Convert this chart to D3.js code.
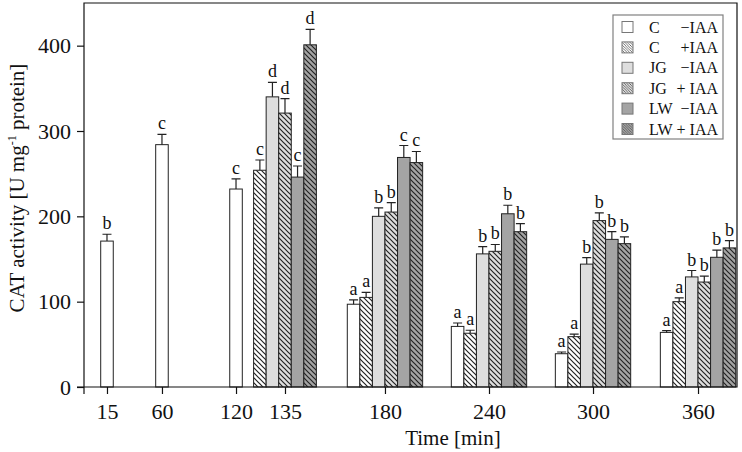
<!DOCTYPE html>
<html><head><meta charset="utf-8">
<script src="https://cdn.jsdelivr.net/npm/d3@7"></script>
<style>
body{margin:0;background:#fff}
text{font-family:"Liberation Serif","Times New Roman",serif;fill:#111}
</style>
</head><body>
<svg id="chart" width="742" height="452"></svg>
<script>
// ---- data ----
const times = [15, 60, 120, 135, 180, 240, 300, 360];
const seriesNames = ["C", "C", "JG", "JG", "LW", "LW"];
const seriesTreat = ["\u2212IAA", "+IAA", "\u2212IAA", "+ IAA", "\u2212IAA", "+ IAA"];
const cMinusIAA  = [171, 284, 232, null, 97, 71, 39, 64];
const cPlusIAA   = [null, null, null, 254, 105, 63, 59, 100];
const jgMinusIAA = [null, null, null, 340, 200, 156, 144, 129];
const jgPlusIAA  = [null, null, null, 321, 205, 159, 195, 123];
const lwMinusIAA = [null, null, null, 246, 269, 203, 173, 152];
const lwPlusIAA  = [null, null, null, 401, 263, 182, 168, 163];
const cMinusErr  = [8, 12, 12, null, 5, 4, 2, 2];
const cPlusErr   = [null, null, null, 12, 6, 3.5, 3, 4.5];
const jgMinusErr = [null, null, null, 17, 10, 8.5, 7.5, 7.5];
const jgPlusErr  = [null, null, null, 17, 11, 8, 9, 7];
const lwMinusErr = [null, null, null, 13, 14, 10, 9, 8.5];
const lwPlusErr  = [null, null, null, 18, 13, 9.5, 8, 8.5];
const cMinusSig  = ["b", "c", "c", null, "a", "a", "a", "a"];
const cPlusSig   = [null, null, null, "c", "a", "a", "a", "a"];
const jgMinusSig = [null, null, null, "d", "b", "b", "b", "b"];
const jgPlusSig  = [null, null, null, "d", "b", "b", "b", "b"];
const lwMinusSig = [null, null, null, "c", "c", "b", "b", "b"];
const lwPlusSig  = [null, null, null, "d", "c", "b", "b", "b"];
const yTicks = [0, 100, 200, 300, 400];

const values = [cMinusIAA, cPlusIAA, jgMinusIAA, jgPlusIAA, lwMinusIAA, lwPlusIAA];
const errors = [cMinusErr, cPlusErr, jgMinusErr, jgPlusErr, lwMinusErr, lwPlusErr];
const sigs   = [cMinusSig, cPlusSig, jgMinusSig, jgPlusSig, lwMinusSig, lwPlusSig];

// ---- layout ----
const margin = {top: 3, right: 5, bottom: 65, left: 84};
const W = 742 - margin.left - margin.right;
const H = 452 - margin.top - margin.bottom;
const svg = d3.select("#chart");
const g = svg.append("g").attr("transform", `translate(${margin.left},${margin.top})`);

const x = d3.scaleLinear().domain(times)
  .range([0.0352, 0.1194, 0.2328, 0.3078, 0.4609, 0.6202, 0.7795, 0.9403].map(f => f * W));
const y = d3.scaleLinear().domain([0, 450]).range([H, 0]);
const bw = W / 52;

// ---- patterns ----
const defs = svg.append("defs");
const bgs = ["#ffffff", "#dedede", "#a4a4a4"];
function hatch(id, bg, s, sw, col) {
  const p = defs.append("pattern").attr("id", id).attr("patternUnits", "userSpaceOnUse")
    .attr("width", s).attr("height", s);
  p.append("rect").attr("width", s).attr("height", s).attr("fill", bg);
  p.append("path").attr("d", `M${-s/2},${-s/2}L${s*1.5},${s*1.5}M${-s/2},${s/2}L${s/2},${s*1.5}M${s/2},${-s/2}L${s*1.5},${s/2}`)
    .attr("stroke", col).attr("stroke-width", sw);
}
bgs.forEach((b, i) => { hatch("h" + i, b, 5, 1.2, "#222"); hatch("lh" + i, b, 2.6, 0.8, "#555"); });
const fills = ["#ffffff", "url(#h0)", "#dedede", "url(#h1)", "#a4a4a4", "url(#h2)"];
const legendFills = ["#ffffff", "url(#lh0)", "#dedede", "url(#lh1)", "#a4a4a4", "url(#lh2)"];

// ---- bars ----
const bars = [];
times.forEach((t, gi) => {
  const present = values.map((v, si) => si).filter(si => values[si][gi] != null);
  const n = present.length;
  present.forEach((si, k) => {
    bars.push({t, si, v: values[si][gi], e: errors[si][gi], s: sigs[si][gi],
      cx: x(t) + (k - (n - 1) / 2) * bw});
  });
});

g.selectAll("rect.bar").data(bars).join("rect").attr("class", "bar")
  .attr("x", d => d.cx - bw / 2).attr("width", bw)
  .attr("y", d => y(d.v)).attr("height", d => y(0) - y(d.v))
  .attr("fill", d => fills[d.si]).attr("stroke", "#222").attr("stroke-width", 1);

g.selectAll("path.err").data(bars).join("path").attr("class", "err")
  .attr("d", d => `M${d.cx},${y(d.v)}V${y(d.v + d.e)}M${d.cx - 4.5},${y(d.v + d.e)}H${d.cx + 4.5}`)
  .attr("stroke", "#222").attr("stroke-width", 1.2).attr("fill", "none");

g.selectAll("text.sig").data(bars).join("text").attr("class", "sig")
  .attr("x", d => d.cx).attr("y", d => y(d.v + d.e) - 5)
  .attr("text-anchor", "middle").attr("font-size", 18).text(d => d.s);

// ---- axes ----
const yAxis = g.append("g").call(d3.axisLeft(y).tickValues(yTicks).tickSize(7).tickPadding(6));
const xAxis = g.append("g").attr("transform", `translate(0,${H})`)
  .call(d3.axisBottom(x).tickValues(times).tickFormat(d3.format("d")).tickSize(7).tickPadding(9));
[yAxis, xAxis].forEach(a => {
  a.select(".domain").remove();
  a.selectAll("line").attr("stroke", "#111").attr("stroke-width", 1.2);
  a.selectAll("text").attr("font-size", 22).attr("font-family", '"Liberation Serif",serif').attr("fill", "#111");
});
// frame
g.append("path").attr("d", `M-7,${H}H${W}V0H0V${H + 7}`)
  .attr("fill", "none").attr("stroke", "#111").attr("stroke-width", 1.2);

// ---- titles ----
svg.append("text").attr("x", margin.left + W * 0.565).attr("y", 445)
  .attr("text-anchor", "middle").attr("font-size", 21).text("Time [min]");
const yt = svg.append("text").attr("transform", "translate(24,188) rotate(-90)")
  .attr("text-anchor", "middle").attr("font-size", 21);
yt.append("tspan").text("CAT activity  [U mg");
yt.append("tspan").attr("font-size", 12).attr("dy", -8).text("-1");
yt.append("tspan").attr("dy", 8).text(" protein]");

// ---- legend ----
const lg = svg.append("g");
lg.append("rect").attr("x", 613).attr("y", 15).attr("width", 110).attr("height", 124)
  .attr("fill", "#fff").attr("stroke", "#808080").attr("stroke-width", 1.2);
seriesNames.forEach((nm, i) => {
  const cy = 27 + i * 20.4;
  lg.append("rect").attr("x", 622).attr("y", cy - 5.5).attr("width", 11).attr("height", 11)
    .attr("fill", legendFills[i]).attr("stroke", "#777").attr("stroke-width", 1);
  lg.append("text").attr("x", 649).attr("y", cy + 5.5).attr("font-size", 16).text(nm);
  lg.append("text").attr("x", 718).attr("y", cy + 5.5).attr("text-anchor", "end")
    .attr("font-size", 16).text(seriesTreat[i]);
});
</script>
</body></html>
